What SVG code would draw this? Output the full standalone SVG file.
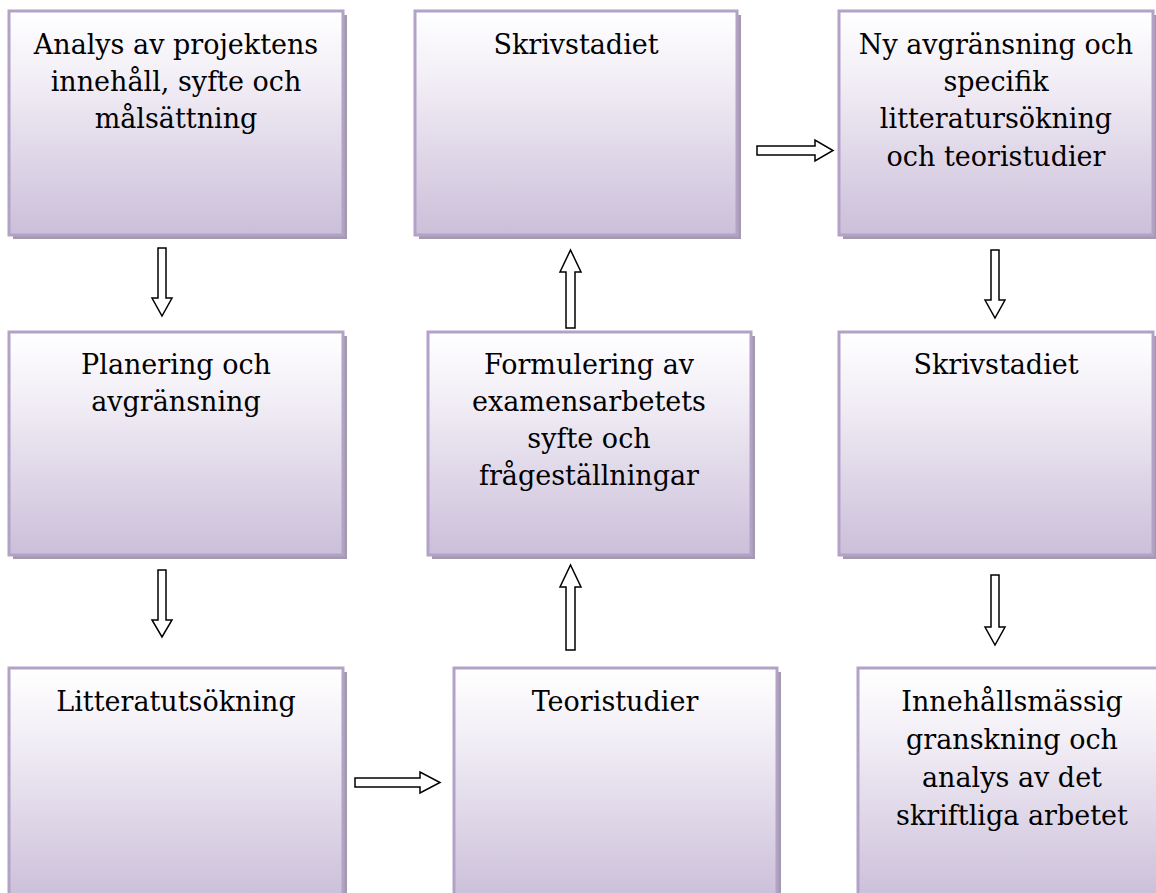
<svg xmlns="http://www.w3.org/2000/svg" width="1156" height="893" viewBox="0 0 1156 893">
<defs>
<linearGradient id="g" x1="0" y1="0" x2="0" y2="1">
<stop offset="0" stop-color="#ffffff"/>
<stop offset="0.3" stop-color="#f2eef6"/>
<stop offset="1" stop-color="#cbbfd9"/>
</linearGradient>
</defs>
<style>
.sh{fill:#a29bad}
.bx{fill:url(#g);stroke:#b3a2c7;stroke-width:3}
.t{font-family:"DejaVu Serif","Liberation Serif",serif;font-size:27px;fill:#000;text-anchor:middle}
.ar{fill:#fff;stroke:#000;stroke-width:1.5;stroke-linejoin:miter}
</style>
<rect width="1156" height="893" fill="#fff"/>
<g id="n1"><rect class="sh" x="13" y="15" width="334" height="224"/><rect class="bx" x="9" y="11" width="334" height="224"/>
<text class="t" x="176"><tspan x="176" y="54">Analys av projektens</tspan><tspan x="176" y="91">innehåll, syfte och</tspan><tspan x="176" y="128">målsättning</tspan></text></g>
<g id="n2"><rect class="sh" x="419" y="15" width="322" height="224"/><rect class="bx" x="415" y="11" width="322" height="224"/>
<text class="t" x="576" y="54">Skrivstadiet</text></g>
<g id="n3"><rect class="sh" x="843" y="15" width="314" height="224"/><rect class="bx" x="839" y="11" width="314" height="224"/>
<text class="t"><tspan x="996" y="54">Ny avgränsning och</tspan><tspan x="996" y="91">specifik</tspan><tspan x="996" y="128">litteratursökning</tspan><tspan x="996" y="166">och teoristudier</tspan></text></g>
<g id="n4"><rect class="sh" x="13" y="336" width="334" height="223"/><rect class="bx" x="9" y="332" width="334" height="223"/>
<text class="t"><tspan x="176" y="374">Planering och</tspan><tspan x="176" y="411">avgränsning</tspan></text></g>
<g id="n5"><rect class="sh" x="432" y="336" width="323" height="223"/><rect class="bx" x="428" y="332" width="323" height="223"/>
<text class="t"><tspan x="589" y="374">Formulering av</tspan><tspan x="589" y="411">examensarbetets</tspan><tspan x="589" y="448">syfte och</tspan><tspan x="589" y="485">frågeställningar</tspan></text></g>
<g id="n6"><rect class="sh" x="843" y="336" width="314" height="223"/><rect class="bx" x="839" y="332" width="314" height="223"/>
<text class="t" x="996" y="374">Skrivstadiet</text></g>
<g id="n7"><rect class="sh" x="13" y="672" width="334" height="232"/><rect class="bx" x="9" y="668" width="334" height="232"/>
<text class="t" x="176" y="711">Litteratutsökning</text></g>
<g id="n8"><rect class="sh" x="458" y="672" width="323" height="232"/><rect class="bx" x="454" y="668" width="323" height="232"/>
<text class="t" x="615" y="711">Teoristudier</text></g>
<g id="n9"><rect class="sh" x="862" y="672" width="314" height="232"/><rect class="bx" x="858" y="668" width="314" height="232"/>
<text class="t"><tspan x="1012" y="711">Innehållsmässig</tspan><tspan x="1012" y="749">granskning och</tspan><tspan x="1012" y="787">analys av det</tspan><tspan x="1012" y="825">skriftliga arbetet</tspan></text></g>
<g id="connectors">
<path class="ar" d="M158,248 H166 V298 H172 L162,316 L152,298 H158 Z"/>
<path class="ar" d="M158,570 H166 V620 H172 L162,637 L152,620 H158 Z"/>
<path class="ar" d="M991,250 H999 V300 H1005 L995,318 L985,300 H991 Z"/>
<path class="ar" d="M991,575 H999 V627 H1005 L995,645 L985,627 H991 Z"/>
<path class="ar" d="M566,328 H575 V272 H581 L570.5,250 L560,272 H566 Z"/>
<path class="ar" d="M566,650 H575 V587 H581 L570.5,565 L560,587 H566 Z"/>
<path class="ar" d="M757,146 V155 H815 V161 L833,150.5 L815,140 V146 Z"/>
<path class="ar" d="M355,778 V787 H420 V793 L440,782.5 L420,772 V778 Z"/>
</g>
</svg>
